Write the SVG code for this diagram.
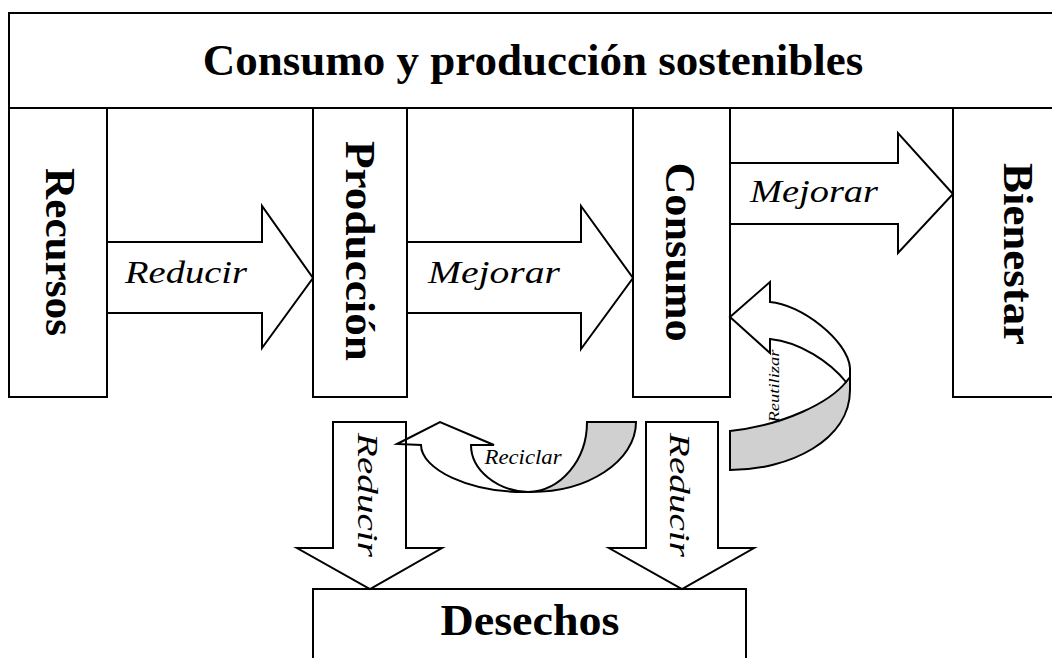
<svg xmlns="http://www.w3.org/2000/svg" width="1052" height="658" viewBox="0 0 1052 658">
<style>
.box{fill:#fff;stroke:#000;stroke-width:2}
.arr{fill:#fff;stroke:#000;stroke-width:2;stroke-linejoin:miter}
.open{fill:none;stroke:#000;stroke-width:2}
.grey{fill:#d0d0d0;stroke:#000;stroke-width:2}
.bold{font-family:"Liberation Serif","Times New Roman",serif;font-weight:bold;fill:#000}
.it{font-family:"Liberation Serif","Times New Roman",serif;font-style:italic;fill:#000}
</style>
<rect width="1052" height="658" fill="#fff"/>
<g id="title">
<rect class="box" x="9" y="13" width="1060" height="95"/>
<text class="bold" x="533" y="75" font-size="45" text-anchor="middle">Consumo y producción sostenibles</text>
</g>
<g id="recursos">
<rect class="box" x="9" y="108" width="98" height="289"/>
<text class="bold" font-size="42" text-anchor="middle" textLength="168" lengthAdjust="spacingAndGlyphs" transform="translate(46,252) rotate(90)">Recursos</text>
</g>
<g id="produccion">
<rect class="box" x="313" y="108" width="94" height="289"/>
<text class="bold" font-size="42" text-anchor="middle" textLength="220" lengthAdjust="spacingAndGlyphs" transform="translate(346,251) rotate(90)">Producción</text>
</g>
<g id="consumo">
<rect class="box" x="633" y="108" width="97" height="289"/>
<text class="bold" font-size="42" text-anchor="middle" textLength="179" lengthAdjust="spacingAndGlyphs" transform="translate(666,252) rotate(90)">Consumo</text>
</g>
<g id="bienestar">
<rect class="box" x="953" y="108" width="110" height="289"/>
<text class="bold" font-size="42" text-anchor="middle" textLength="182" lengthAdjust="spacingAndGlyphs" transform="translate(1004,254) rotate(90)">Bienestar</text>
</g>
<g id="desechos">
<rect class="box" x="313" y="589" width="433" height="90"/>
<text class="bold" x="530" y="635" font-size="45" text-anchor="middle" textLength="179" lengthAdjust="spacingAndGlyphs">Desechos</text>
</g>
<g id="connectors">
<polygon class="arr" points="107,242 262,242 262,206 313,278 262,348 262,313 107,313"/>
<text class="it" x="186" y="283" font-size="32" text-anchor="middle" textLength="122" lengthAdjust="spacingAndGlyphs">Reducir</text>
<polygon class="arr" points="407,242 581,242 581,206 633,278 581,349 581,313 407,313"/>
<text class="it" x="494" y="283" font-size="32" text-anchor="middle" textLength="132" lengthAdjust="spacingAndGlyphs">Mejorar</text>
<polygon class="arr" points="730,163 898,163 898,133 953,194 898,253 898,224 730,224"/>
<text class="it" x="814" y="202" font-size="32" text-anchor="middle" textLength="128" lengthAdjust="spacingAndGlyphs">Mejorar</text>
<polygon class="arr" points="333,422 406,422 406,548 442,548 370,589 297,548 333,548"/>
<text class="it" font-size="30" text-anchor="middle" textLength="124" lengthAdjust="spacingAndGlyphs" transform="translate(358,495) rotate(90)">Reducir</text>
<polygon class="arr" points="646,422 718,422 718,548 754,548 682,589 609,548 646,548"/>
<text class="it" font-size="30" text-anchor="middle" textLength="124" lengthAdjust="spacingAndGlyphs" transform="translate(670,495) rotate(90)">Reducir</text>
<path class="grey" d="M528,492 C588,493 636,461 636,422 L587,422 C587,460 561,491 528,492 Z"/>
<path class="open" d="M397,444 L440,422 L494,445 L471,445 C471,470 497,491 528,492 C469,493 421,469 421,445 Z"/>
<text class="it" x="523" y="464" font-size="20" text-anchor="middle" textLength="77" lengthAdjust="spacingAndGlyphs">Reciclar</text>
<path class="grey" d="M846,382 C830,402 785,425 730,431 L730,470 C790,470 850,440 850,390 L850,375 Z"/>
<path class="arr" d="M730,317 L770,282 L770,302 C800,304 848,340 850,368 L850,377 L846,382 C830,362 800,342 770,339 L770,353 Z"/>
<text class="it" font-size="15" text-anchor="middle" textLength="73" lengthAdjust="spacingAndGlyphs" transform="translate(779,386) rotate(-90)">Reutilizar</text>
</g>
</svg>
